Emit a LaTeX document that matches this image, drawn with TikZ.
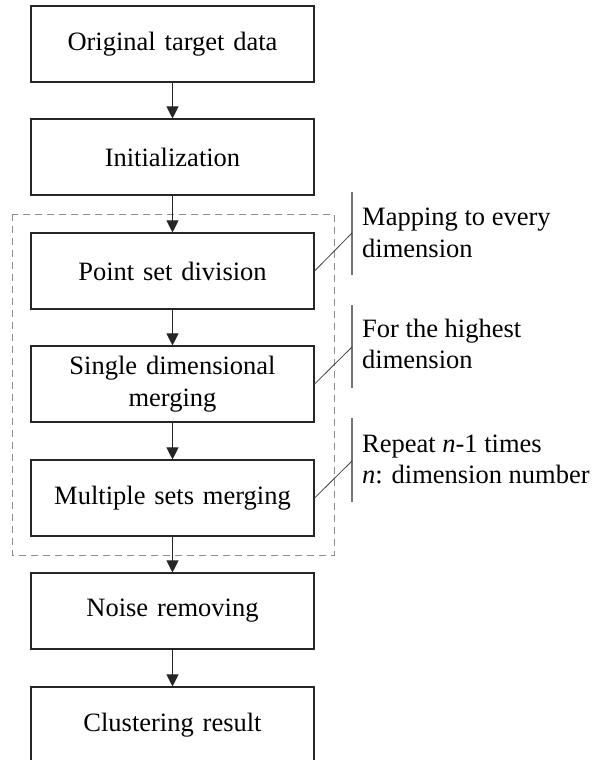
\documentclass[tikz,border=0pt]{standalone}
\usepackage{fontspec}
\setmainfont{Liberation Serif}
\usetikzlibrary{arrows.meta}
\begin{document}
\begin{tikzpicture}[x=1pt,y=-1pt,
  font=\fontsize{26.5}{31.5}\selectfont,
  stepbox/.style={draw=black!85,line width=1.1pt,minimum width=283pt,minimum height=76pt,
    align=center,inner sep=0pt,text width=270pt},
  flow/.style={draw=black!85,line width=1pt,-{Triangle[width=12pt,length=12pt]}},
  group/.style={draw=black!45,line width=1pt,dash pattern=on 7pt off 5pt},
  notebar/.style={draw=black!55,line width=1.5pt},
  noteline/.style={draw=black!75,line width=0.8pt},
  notetext/.style={anchor=base west,inner sep=0pt,align=left}]
\useasboundingbox (0,0) rectangle (602,760);

% main processing steps
\node[stepbox] (s1) at (172.5,44)  {Original target data};
\node[stepbox] (s2) at (172.5,157) {Initialization};
\node[stepbox] (s3) at (172.5,271) {Point set division};
\node[stepbox] (s4) at (172.5,384) {Single dimensional\\merging};
\node[stepbox] (s5) at (172.5,498) {Multiple sets merging};
\node[stepbox] (s6) at (172.5,611) {Noise removing};
\node[stepbox] (s7) at (172.5,725) {Clustering result};

% dashed frame around the merging stage
\draw[group] (12,214) rectangle (334,555);

% flow arrows
\foreach \a/\b in {s1/s2,s2/s3,s3/s4,s4/s5,s5/s6,s6/s7}
  \draw[flow] (\a.south) -- (\b.north);

% annotations: bar, leader line and text
\coordinate (b1t) at (352,192); \coordinate (b1b) at (352,275); \coordinate (b1k) at (352,233);
\coordinate (b2t) at (352,305); \coordinate (b2b) at (352,388); \coordinate (b2k) at (352,347);
\coordinate (b3t) at (352,418); \coordinate (b3b) at (352,502); \coordinate (b3k) at (352,461);
\draw[notebar] (b1t) -- (b1b);
\draw[notebar] (b2t) -- (b2b);
\draw[notebar] (b3t) -- (b3b);
\draw[noteline] (s3.east) -- (b1k);
\draw[noteline] (s4.east) -- (b2k);
\draw[noteline] (s5.east) -- (b3k);

\node[notetext] (n1a) at (362,225) {Mapping to every};
\node[notetext] (n1b) at (362,257) {dimension};
\node[notetext] (n2a) at (362,337) {For the highest};
\node[notetext] (n2b) at (362,368) {dimension};
\node[notetext] (n3a) at (362,452) {Repeat \textit{n}-1 times};
\node[notetext] (n3b) at (362,483) {\textit{n}: dimension number};
\end{tikzpicture}
\end{document}
